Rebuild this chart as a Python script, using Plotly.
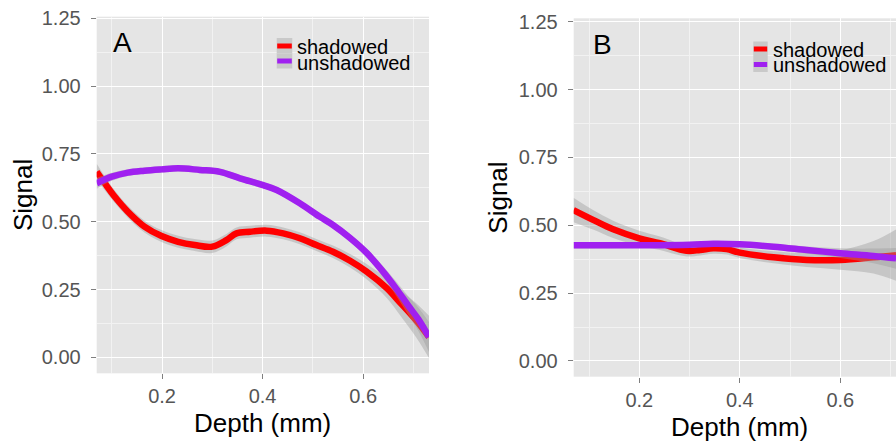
import plotly.graph_objects as go

# ---------------- data ----------------
# Panel A
a_shad_x = [0.07, 0.086, 0.106, 0.132, 0.165, 0.199, 0.232, 0.265, 0.3, 0.328, 0.348, 0.375,
            0.408, 0.441, 0.474, 0.507, 0.54, 0.574, 0.607, 0.647, 0.673, 0.706, 0.731]
a_shad_y = [0.684, 0.642, 0.592, 0.537, 0.482, 0.447, 0.426, 0.414, 0.408, 0.432, 0.457, 0.463,
            0.467, 0.457, 0.439, 0.414, 0.389, 0.356, 0.316, 0.255, 0.203, 0.135, 0.075]
a_shad_se = [0.03, 0.026, 0.023, 0.022, 0.022, 0.022, 0.022, 0.022, 0.023, 0.023, 0.022, 0.022,
             0.022, 0.022, 0.022, 0.022, 0.023, 0.025, 0.028, 0.036, 0.047, 0.063, 0.078]

a_unsh_x = [0.07, 0.1, 0.132, 0.165, 0.199, 0.232, 0.275, 0.315, 0.355, 0.401, 0.428, 0.474,
            0.514, 0.54, 0.574, 0.607, 0.64, 0.665, 0.69, 0.71, 0.731]
a_unsh_y = [0.642, 0.666, 0.681, 0.688, 0.693, 0.697, 0.691, 0.684, 0.66, 0.635, 0.617, 0.568,
            0.518, 0.488, 0.44, 0.385, 0.315, 0.255, 0.19, 0.14, 0.075]
a_unsh_se = [0.02, 0.015, 0.012, 0.012, 0.012, 0.012, 0.012, 0.012, 0.012, 0.012, 0.012, 0.012,
             0.012, 0.013, 0.014, 0.016, 0.02, 0.026, 0.034, 0.043, 0.055]

# Panel B
b_shad_x = [0.069, 0.108, 0.148, 0.2, 0.241, 0.294, 0.321, 0.347, 0.374, 0.4, 0.467, 0.533,
            0.6, 0.666, 0.711]
b_shad_y = [0.556, 0.52, 0.485, 0.452, 0.434, 0.406, 0.409, 0.415, 0.412, 0.399, 0.382, 0.372,
            0.372, 0.382, 0.39]
b_shad_se = [0.045, 0.036, 0.032, 0.028, 0.025, 0.021, 0.02, 0.02, 0.02, 0.02, 0.022, 0.026,
             0.036, 0.06, 0.095]

b_unsh_x = [0.069, 0.2, 0.3, 0.347, 0.4, 0.467, 0.533, 0.6, 0.666, 0.711]
b_unsh_y = [0.426, 0.426, 0.428, 0.432, 0.43, 0.421, 0.409, 0.397, 0.387, 0.378]
b_unsh_se = [0.012, 0.01, 0.01, 0.01, 0.01, 0.011, 0.013, 0.018, 0.027, 0.038]

series_names = ["shadowed", "unshadowed"]
series_colors = ["#FF0000", "#A020F0"]
panel_labels = ["A", "B"]
x_title = "Depth (mm)"
y_title = "Signal"

# ---------------- figure ----------------
W, H = 896, 442
FONT = "Liberation Sans, Arial, Helvetica, sans-serif"
RIBBON = "rgba(153,153,153,0.4)"

fig = go.Figure()


def add_smooth(x, y, se, color, xa, ya):
    lo = [v - s for v, s in zip(y, se)]
    hi = [v + s for v, s in zip(y, se)]
    fig.add_trace(go.Scatter(x=x, y=lo, mode="lines", line=dict(width=0, shape="spline"),
                             showlegend=False, hoverinfo="skip", xaxis=xa, yaxis=ya))
    fig.add_trace(go.Scatter(x=x, y=hi, mode="lines", line=dict(width=0, shape="spline"),
                             fill="tonexty", fillcolor=RIBBON,
                             showlegend=False, hoverinfo="skip", xaxis=xa, yaxis=ya))
    fig.add_trace(go.Scatter(x=x, y=y, mode="lines",
                             line=dict(width=6.5, color=color, shape="spline"),
                             showlegend=False, xaxis=xa, yaxis=ya))


add_smooth(a_shad_x, a_shad_y, a_shad_se, series_colors[0], "x", "y")
add_smooth(a_unsh_x, a_unsh_y, a_unsh_se, series_colors[1], "x", "y")
add_smooth(b_shad_x, b_shad_y, b_shad_se, series_colors[0], "x2", "y2")
add_smooth(b_unsh_x, b_unsh_y, b_unsh_se, series_colors[1], "x2", "y2")


def px(xp):
    return xp / W


def py(yp):
    return 1 - yp / H


def xaxis_style(rng, dom):
    return dict(range=rng, domain=dom, tick0=0, dtick=0.2, tickformat=".1f", automargin=False,
                showgrid=True, gridcolor="#FFFFFF", gridwidth=1.4, zeroline=False,
                ticks="outside", ticklen=5, tickcolor="#7F7F7F", tickwidth=1,
                tickfont=dict(family=FONT, size=20, color="#555555"),
                ticklabelstandoff=0,
                minor=dict(tick0=0, dtick=0.1, showgrid=True, gridcolor="#F2F2F2", gridwidth=0.7),
                showline=False, fixedrange=True)


def yaxis_style(rng, dom, anchor):
    return dict(range=rng, domain=dom, anchor=anchor, tick0=0, dtick=0.25, tickformat=".2f",
                automargin=False,
                showgrid=True, gridcolor="#FFFFFF", gridwidth=1.4, zeroline=False,
                ticks="outside", ticklen=5, tickcolor="#7F7F7F", tickwidth=1,
                tickfont=dict(family=FONT, size=20, color="#555555"),
                ticklabelstandoff=6,
                minor=dict(tick0=0, dtick=0.125, showgrid=True, gridcolor="#F2F2F2", gridwidth=0.7),
                showline=False, fixedrange=True)


fig.update_layout(
    template="none",
    width=W, height=H,
    margin=dict(l=0, r=0, t=0, b=0, pad=0, autoexpand=False),
    paper_bgcolor="white", plot_bgcolor="#E5E5E5",
    showlegend=False,
    font=dict(family=FONT, color="black"),
    xaxis=dict(**xaxis_style([0.07, 0.731], [px(96.7), px(429.0)]), anchor="y"),
    yaxis=yaxis_style([-0.059, 1.256], [py(373.3), py(16.7)], "x"),
    xaxis2=dict(**xaxis_style([0.0695, 0.7108], [px(573.7), 1.0]), anchor="y2"),
    yaxis2=yaxis_style([-0.058, 1.2625], [py(376.7), py(18.3)], "x2"),
)

annotations = []
shapes = []

panels = [
    dict(xt=(262.9, 423), yt=(23, 195), lab=(122.5, 42.5),
         key_x=(276.7, 292.3), key_rows=[(38, 53.5, 46.0), (53.5, 68.5, 61.0)], text_x=294.5,
         text_y=[46.7, 62.7]),
    dict(xt=(739.5, 426.5), yt=(497.7, 198), lab=(602, 44.5),
         key_x=(753.3, 767.7), key_rows=[(41.5, 57, 49.0), (57, 72, 64.5)], text_x=770.5,
         text_y=[49.5, 65.2]),
]

for i, p in enumerate(panels):
    annotations.append(dict(text=x_title, x=px(p["xt"][0]), y=py(p["xt"][1]), xref="paper", yref="paper",
                            showarrow=False, xanchor="center", yanchor="middle",
                            font=dict(family=FONT, size=26, color="black")))
    annotations.append(dict(text=y_title, x=px(p["yt"][0]), y=py(p["yt"][1]), xref="paper", yref="paper",
                            showarrow=False, xanchor="center", yanchor="middle", textangle=-90,
                            font=dict(family=FONT, size=26, color="black")))
    annotations.append(dict(text=panel_labels[i], x=px(p["lab"][0]), y=py(p["lab"][1]),
                            xref="paper", yref="paper", showarrow=False,
                            xanchor="center", yanchor="middle",
                            font=dict(family=FONT, size=28, color="black")))
    for j, (y0, y1, yl) in enumerate(p["key_rows"]):
        shapes.append(dict(type="rect", xref="paper", yref="paper",
                           x0=px(p["key_x"][0]), x1=px(p["key_x"][1]), y0=py(y1), y1=py(y0),
                           fillcolor="#C9C9C9", line=dict(width=0), layer="above"))
        shapes.append(dict(type="line", xref="paper", yref="paper",
                           x0=px(p["key_x"][0] + 0.5), x1=px(p["key_x"][1] - 0.5), y0=py(yl), y1=py(yl),
                           line=dict(color=series_colors[j], width=5), layer="above"))
        annotations.append(dict(text=series_names[j], x=px(p["text_x"]), y=py(p["text_y"][j]),
                                xref="paper", yref="paper", showarrow=False,
                                xanchor="left", yanchor="middle",
                                font=dict(family=FONT, size=20, color="black")))

fig.update_layout(annotations=annotations, shapes=shapes)

fig.write_html("out.html", config={"displayModeBar": False},
               post_script="document.body.style.margin='0';document.body.style.overflow='hidden';")
